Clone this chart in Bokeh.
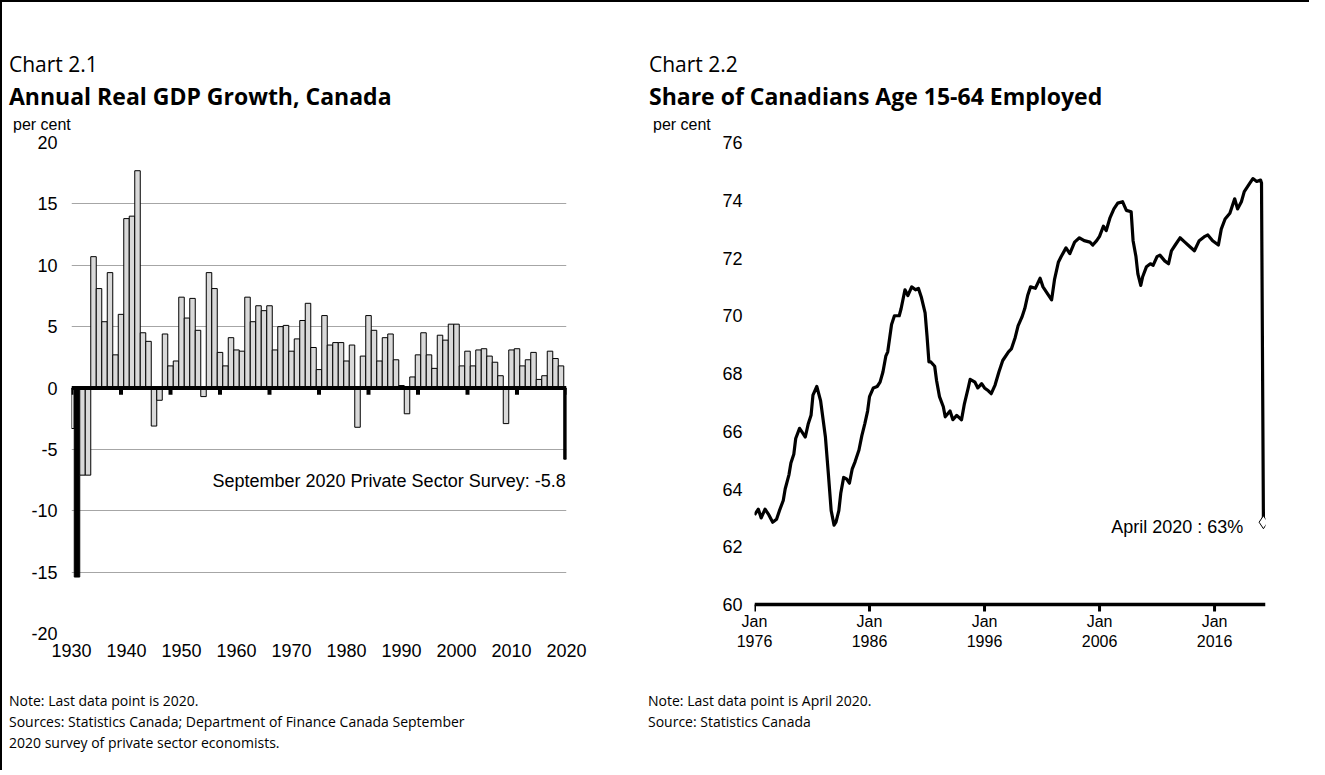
from bokeh.plotting import figure
from bokeh.models import FixedTicker, Label, Span, Range1d, Div
from bokeh.layouts import row, column
from bokeh.embed import file_html
from bokeh.resources import INLINE

# ---------------- data: Chart 2.1 ----------------
gdp_years = list(range(1930, 2021))
gdp_growth = [
    -3.3, -15.4, -7.1, -7.1, 10.7, 8.1, 5.4, 9.4, 2.7, 6.0,
    13.8, 14.0, 17.7, 4.5, 3.8, -3.1, -1.0, 4.4, 1.8, 2.2,
    7.4, 5.7, 7.3, 4.7, -0.7, 9.4, 8.1, 2.9, 1.8, 4.1,
    3.1, 3.0, 7.4, 5.4, 6.7, 6.3, 6.7, 3.1, 5.0, 5.1,
    3.0, 4.0, 5.5, 6.9, 3.3, 1.5, 5.9, 3.5, 3.7, 3.7,
    2.2, 3.5, -3.2, 2.6, 5.9, 4.7, 2.2, 4.1, 4.4, 2.3,
    0.2, -2.1, 0.9, 2.7, 4.5, 2.7, 1.6, 4.3, 3.9, 5.2,
    5.2, 1.8, 3.0, 1.8, 3.1, 3.2, 2.6, 2.1, 1.0, -2.9,
    3.1, 3.2, 1.8, 2.3, 2.9, 0.7, 1.0, 3.0, 2.4, 1.8,
    -5.8,
]
highlight_years = [1931, 2020]
gdp_label_years = [1930, 1940, 1950, 1960, 1970, 1980, 1990, 2000, 2010, 2020]
gdp_tick_years = [1930, 1939, 1948, 1957, 1966, 1975, 1984, 1993, 2002, 2011, 2020]
gdp_y_ticks = [-20, -15, -10, -5, 0, 5, 10, 15, 20]

# ---------------- data: Chart 2.2 ----------------
emp_months = [
    "1976-01", "1976-05", "1976-08", "1976-12",
    "1977-04", "1977-08", "1977-12",
    "1978-03", "1978-07", "1978-09",
    "1979-01", "1979-03", "1979-06", "1979-08", "1979-12",
    "1980-03", "1980-06", "1980-09", "1980-12",
    "1981-02", "1981-06", "1981-10",
    "1982-03", "1982-06", "1982-09", "1982-12",
    "1983-02", "1983-05", "1983-07", "1983-10",
    "1984-01", "1984-04", "1984-07", "1984-10",
    "1985-02", "1985-05", "1985-08", "1985-11",
    "1986-01", "1986-05", "1986-09", "1986-12",
    "1987-03", "1987-06", "1987-08", "1987-12",
    "1988-03", "1988-08", "1988-10",
    "1989-02", "1989-05", "1989-09",
    "1990-01", "1990-04", "1990-07", "1990-11",
    "1991-01", "1991-03", "1991-05", "1991-09", "1991-11",
    "1992-02", "1992-06", "1992-08",
    "1993-01", "1993-04", "1993-08",
    "1994-01", "1994-04", "1994-08", "1994-10",
    "1995-03", "1995-06", "1995-10",
    "1996-01", "1996-05", "1996-08", "1996-12",
    "1997-04", "1997-08",
    "1998-02", "1998-05", "1998-09", "1998-12",
    "1999-04", "1999-07", "1999-10",
    "2000-01", "2000-06", "2000-11",
    "2001-02", "2001-07", "2001-11",
    "2002-02", "2002-06", "2002-09",
    "2003-02", "2003-06", "2003-11",
    "2004-04", "2004-09",
    "2005-03", "2005-06", "2005-10",
    "2006-01", "2006-05", "2006-08", "2006-12",
    "2007-04", "2007-08",
    "2008-01", "2008-05", "2008-10", "2008-12",
    "2009-03", "2009-05", "2009-08", "2009-10",
    "2010-02", "2010-06", "2010-09",
    "2011-01", "2011-04", "2011-09",
    "2012-01", "2012-04", "2012-08",
    "2013-01", "2013-06", "2013-11",
    "2014-04", "2014-09",
    "2015-03", "2015-06", "2015-11",
    "2016-05", "2016-08", "2016-12",
    "2017-05", "2017-10",
    "2018-01", "2018-05", "2018-08",
    "2019-02", "2019-05", "2019-09",
    "2020-01", "2020-02", "2020-04",
]
emp_rate = [
    63.1, 63.3, 63.0, 63.3,
    63.1, 62.85, 62.95,
    63.25, 63.6, 64.0,
    64.5, 64.9, 65.2, 65.75, 66.1,
    65.95, 65.8, 66.25, 66.55,
    67.25, 67.55, 67.05,
    65.8, 64.55, 63.25, 62.75,
    62.85, 63.25, 63.85, 64.4,
    64.35, 64.2, 64.7, 64.95,
    65.35, 65.85, 66.25, 66.7,
    67.2, 67.5, 67.55, 67.7,
    68.05, 68.6, 68.75, 69.7,
    70.0, 70.0, 70.25,
    70.9, 70.7, 71.0,
    70.9, 70.95, 70.65, 70.1,
    69.3, 68.4, 68.4, 68.25, 67.75,
    67.2, 66.85, 66.5,
    66.7, 66.4, 66.55,
    66.4, 66.95, 67.5, 67.8,
    67.7, 67.5, 67.65,
    67.5, 67.4, 67.3, 67.6,
    68.05, 68.45,
    68.75, 68.85, 69.25, 69.65,
    69.95, 70.25, 70.7,
    71.0, 70.95, 71.3,
    71.0, 70.75, 70.55,
    71.25, 71.85, 72.05,
    72.35, 72.15, 72.55,
    72.7, 72.6,
    72.55, 72.45, 72.6,
    72.75, 73.1, 72.95, 73.4,
    73.7, 73.9,
    73.95, 73.65, 73.6, 72.6,
    72.05, 71.45, 71.05, 71.35,
    71.7, 71.8, 71.75,
    72.05, 72.1, 71.9,
    71.8, 72.25, 72.45,
    72.7, 72.55, 72.4,
    72.25, 72.6,
    72.75, 72.8, 72.6,
    72.45, 73.0, 73.35,
    73.55, 74.05,
    73.7, 73.95, 74.3,
    74.6, 74.75, 74.65,
    74.7, 74.6, 62.85,
]
emp_tick_years = [1976, 1986, 1996, 2006, 2016]
emp_y_ticks = [60, 62, 64, 66, 68, 70, 72, 74, 76]

# ---------------- text ----------------
left_chart_no = "Chart 2.1"
left_title = "Annual Real GDP Growth, Canada"
right_chart_no = "Chart 2.2"
right_title = "Share of Canadians Age 15-64 Employed"
unit_label = "per cent"
left_notes = ["Note: Last data point is 2020.",
              "Sources: Statistics Canada; Department of Finance Canada September",
              "2020 survey of private sector economists."]
right_notes = ["Note: Last data point is April 2020.",
               "Source: Statistics Canada"]

# ---------------- styling ----------------
ARIAL = "Liberation Sans"
HDR_H = 130
FIG_H = 548
NOTE_H = 90
W1, W2 = 640, 667


def dec_year(s):
    y, m = s.split("-")
    return int(y) + (int(m) - 1) / 12.0


def span(left, top, text, size, font="'Open Sans'", weight="normal"):
    return (f'<div style="position:absolute;left:{left}px;top:{top}px;white-space:nowrap;'
            f'font-family:{font};font-size:{size}px;line-height:1;font-weight:{weight};'
            f'color:black;">{text}</div>')


# ---------------- header ----------------
hdr_html = (f'<div style="position:relative;width:{W1 + W2}px;height:{HDR_H}px;">'
            + span(7, 52, left_chart_no, 21)
            + span(7, 83, left_title, 23, weight="bold")
            + span(11, 115, unit_label, 16, font="'Liberation Sans'")
            + span(W1 + 7, 52, right_chart_no, 21)
            + span(W1 + 7, 83, right_title, 23, weight="bold")
            + span(W1 + 11, 115, unit_label, 16, font="'Liberation Sans'")
            + '</div>')
header = Div(text=hdr_html, width=W1 + W2, height=HDR_H, margin=0)

# ---------------- notes ----------------
def note_block(left, lines):
    inner = "<br>".join(lines)
    return (f'<div style="position:absolute;left:{left}px;top:10px;white-space:nowrap;'
            f"font-family:'Open Sans';font-size:14px;line-height:21px;color:black;\">{inner}</div>")


notes_html = (f'<div style="position:relative;width:{W1 + W2}px;height:{NOTE_H}px;">'
              + note_block(7, left_notes) + note_block(W1 + 6, right_notes) + '</div>')
notes = Div(text=notes_html, width=W1 + W2, height=NOTE_H, margin=0)

# ================= Chart 2.1 =================
p1 = figure(width=W1, height=FIG_H, output_backend="svg", toolbar_location=None,
            x_range=Range1d(1930, 2020), y_range=Range1d(-20, 20),
            min_border_left=69, min_border_right=76, min_border_top=10,
            min_border_bottom=FIG_H - 10 - 491)
p1.outline_line_color = None
p1.background_fill_color = "white"
p1.border_fill_color = "white"

colors = ["black" if yr in highlight_years else "#d9d9d9" for yr in gdp_years]
p1.vbar(x=gdp_years, top=gdp_growth, width=1.0, fill_color=colors,
        line_color="black", line_width=1)

p1.xgrid.visible = False
p1.ygrid.ticker = FixedTicker(ticks=gdp_y_ticks)
p1.ygrid.grid_line_color = "#a6a6a6"
p1.ygrid.grid_line_width = 1.2

p1.add_layout(Span(location=0, dimension="width", line_color="black", line_width=4))
p1.segment(x0=gdp_tick_years, y0=[0] * len(gdp_tick_years),
           x1=gdp_tick_years, y1=[-0.55] * len(gdp_tick_years),
           line_color="black", line_width=4)

xa = p1.xaxis[0]
xa.ticker = FixedTicker(ticks=gdp_label_years)
xa.axis_line_color = None
xa.major_tick_line_color = None
xa.minor_tick_line_color = None
xa.major_tick_out = 0
xa.major_label_standoff = 10
xa.major_label_text_font = ARIAL
xa.major_label_text_font_size = "18px"
xa.major_label_text_color = "black"

ya = p1.yaxis[0]
ya.ticker = FixedTicker(ticks=gdp_y_ticks)
ya.major_label_overrides = {t: str(t) for t in gdp_y_ticks}
ya.axis_line_color = None
ya.major_tick_line_color = None
ya.minor_tick_line_color = None
ya.major_tick_out = 0
ya.major_label_standoff = 14
ya.major_label_text_font = ARIAL
ya.major_label_text_font_size = "18px"
ya.major_label_text_color = "black"

p1.add_layout(Label(x=2019.85, y=-7.6, text="September 2020 Private Sector Survey: -5.8",
                    text_font=ARIAL, text_font_size="18px", text_align="right",
                    text_baseline="middle", text_color="black"))

# ================= Chart 2.2 =================
emp_x = [dec_year(s) for s in emp_months]
px_per_unit = (604 - 142) / 16.0
y_low = 60 - (633 - 604) / px_per_unit   # frame shares its bottom with chart 2.1

p2 = figure(width=W2, height=FIG_H, output_backend="svg", toolbar_location=None,
            x_range=Range1d(1976, 2020.43), y_range=Range1d(y_low, 76),
            min_border_left=112, min_border_right=44, min_border_top=10,
            min_border_bottom=FIG_H - 10 - 491)
p2.outline_line_color = None
p2.background_fill_color = "white"
p2.border_fill_color = "white"
p2.grid.visible = False

p2.add_layout(Span(location=60, dimension="width", line_color="black", line_width=3.5))
p2.segment(x0=emp_tick_years, y0=[60] * len(emp_tick_years),
           x1=emp_tick_years, y1=[60 - 7 / px_per_unit] * len(emp_tick_years),
           line_color="black", line_width=3)

p2.line(emp_x, emp_rate, line_color="black", line_width=3.2, line_join="round")
p2.scatter([emp_x[-1]], [emp_rate[-1]], marker="diamond", size=13,
           fill_color="white", line_color="black", line_width=1)

xb = p2.xaxis[0]
xb.ticker = FixedTicker(ticks=emp_tick_years)
xb.major_label_overrides = {t: "Jan\n" + str(t) for t in emp_tick_years}
xb.axis_line_color = None
xb.major_tick_line_color = None
xb.minor_tick_line_color = None
xb.major_tick_out = 0
xb.major_label_standoff = -21
xb.major_label_text_font = ARIAL
xb.major_label_text_font_size = "16px"
xb.major_label_text_color = "black"

yb = p2.yaxis[0]
yb.ticker = FixedTicker(ticks=emp_y_ticks)
yb.axis_line_color = None
yb.major_tick_line_color = None
yb.minor_tick_line_color = None
yb.major_tick_out = 0
yb.major_label_standoff = 12
yb.major_label_text_font = ARIAL
yb.major_label_text_font_size = "18px"
yb.major_label_text_color = "black"

p2.add_layout(Label(x=2018.5, y=62.7, text="April 2020 : 63%",
                    text_font=ARIAL, text_font_size="18px", text_align="right",
                    text_baseline="middle", text_color="black"))

layout = column(header, row(p1, p2, spacing=0), notes, spacing=0,
                styles={"border-top": "2px solid black", "border-left": "2px solid black"})

open("out.html", "w").write(file_html(layout, INLINE))
